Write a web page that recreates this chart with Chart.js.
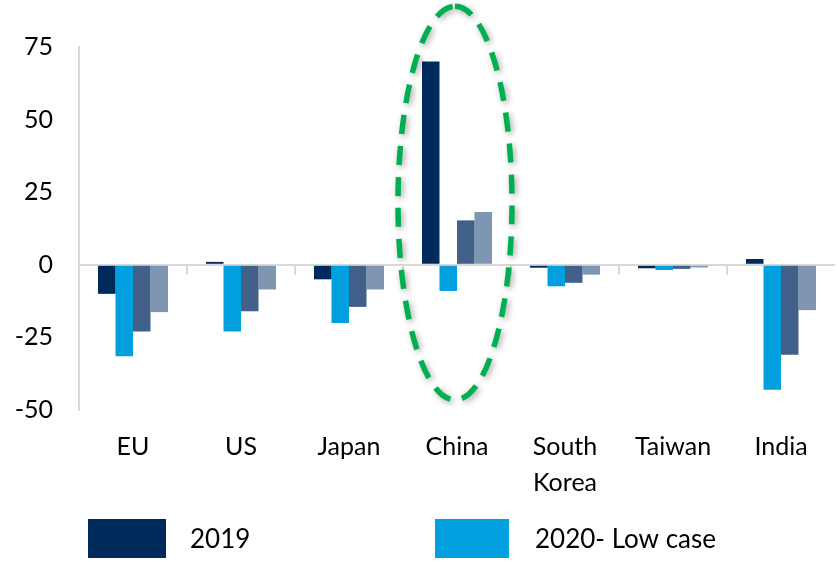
<!DOCTYPE html>
<html>
<head>
<meta charset="utf-8">
<script src="https://cdn.jsdelivr.net/npm/chart.js@4/dist/chart.umd.min.js"></script>
<style>
  html, body { margin: 0; padding: 0; background: #fff; }
  #wrap { width: 837px; height: 562px; position: relative; }
</style>
</head>
<body>
<div id="wrap"><canvas id="chart"></canvas></div>
<script>
// Data
const categories = ['EU', 'US', 'Japan', 'China', ['South', 'Korea'], 'Taiwan', 'India'];
const seriesNames = ['2019', '2020- Low case', '2020- Base case', '2020- High case'];
const values2019 = [-10, 1, -5, 70, -1, -1.2, 2];
const valuesLow = [-31.5, -23, -20, -9, -7.4, -1.8, -43];
const valuesBase = [-23, -16, -14.5, 15.3, -6.2, -1.4, -31];
const valuesHigh = [-16.3, -8.5, -8.5, 18.2, -3.4, -0.9, -15.6];
const yTicks = [-50, -25, 0, 25, 50, 75];
const seriesColors = ['#002A5C', '#00A0DE', '#41608A', '#7F96B2'];

const FONT = 'Lato, "Open Sans", sans-serif';

// zero line tick marks, dashed highlight ellipse round China, legend
const extras = {
    id: 'extras',
    afterDraw(chart) {
        const ctx = chart.ctx;
        const x = chart.scales.x;
        const y = chart.scales.y;
        const y0 = y.getPixelForValue(0);

        // small ticks under the zero line at category boundaries
        ctx.save();
        ctx.strokeStyle = '#d9d9d9';
        ctx.lineWidth = 2;
        for (let i = 1; i < categories.length; i++) {
            const bx = (x.getPixelForValue(i - 1) + x.getPixelForValue(i)) / 2;
            ctx.beginPath();
            ctx.moveTo(bx, y0);
            ctx.lineTo(bx, y0 + 10);
            ctx.stroke();
        }
        ctx.restore();

        // green dashed ellipse around China
        const cx = x.getPixelForValue(3) - 2;
        const top = y.getPixelForValue(89);
        const bottom = y.getPixelForValue(-46.5);
        ctx.save();
        ctx.shadowColor = 'rgba(0,0,0,0.35)';
        ctx.shadowBlur = 6;
        ctx.shadowOffsetX = 2;
        ctx.shadowOffsetY = 2;
        ctx.strokeStyle = '#00B050';
        ctx.lineWidth = 5.5;
        ctx.setLineDash([19, 12]);
        ctx.beginPath();
        ctx.ellipse(cx, (top + bottom) / 2, 57, (bottom - top) / 2, 0, -Math.PI / 2, Math.PI * 1.5);
        ctx.stroke();
        ctx.restore();

        // legend (only the first two series are shown)
        const items = [
            { bx: 88, bw: 78, tx: 190 },
            { bx: 435, bw: 74, tx: 535 }
        ];
        ctx.save();
        ctx.font = '26px ' + FONT;
        ctx.textBaseline = 'middle';
        items.forEach((it, i) => {
            ctx.fillStyle = seriesColors[i];
            ctx.fillRect(it.bx, 519, it.bw, 39);
            ctx.fillStyle = '#000';
            ctx.fillText(seriesNames[i], it.tx, 540);
        });
        ctx.restore();
    }
};

const allValues = [values2019, valuesLow, valuesBase, valuesHigh];

new Chart(document.getElementById('chart'), {
    type: 'bar',
    data: {
        labels: categories,
        datasets: allValues.map((vals, i) => ({
            label: seriesNames[i],
            data: vals,
            backgroundColor: seriesColors[i],
            borderWidth: 0,
            barPercentage: 1,
            categoryPercentage: 0.648
        }))
    },
    options: {
        responsive: true,
        maintainAspectRatio: false,
        animation: false,
        layout: { padding: { top: 47, right: 2, left: 0, bottom: 0 } },
        plugins: {
            legend: { display: false },
            tooltip: { enabled: false }
        },
        scales: {
            x: {
                grid: { display: false },
                border: { display: false },
                ticks: {
                    color: '#000',
                    font: { family: FONT, size: 25, lineHeight: 1.45 },
                    padding: 11,
                    maxRotation: 0,
                    autoSkip: false
                },
                afterFit(scale) { scale.height = 152; }
            },
            y: {
                min: -50,
                max: 75,
                afterBuildTicks(scale) {
                    scale.ticks = yTicks.map(v => ({ value: v }));
                },
                grid: {
                    drawTicks: false,
                    lineWidth: 2,
                    color: ctx => ctx.tick && ctx.tick.value === 0 ? '#d9d9d9' : 'rgba(0,0,0,0)'
                },
                border: { display: true, color: '#d9d9d9', width: 2 },
                ticks: {
                    color: '#000',
                    font: { family: FONT, size: 25 },
                    padding: 26
                },
                afterFit(scale) { scale.width = 79; }
            }
        }
    },
    plugins: [extras]
});
</script>
</body>
</html>
